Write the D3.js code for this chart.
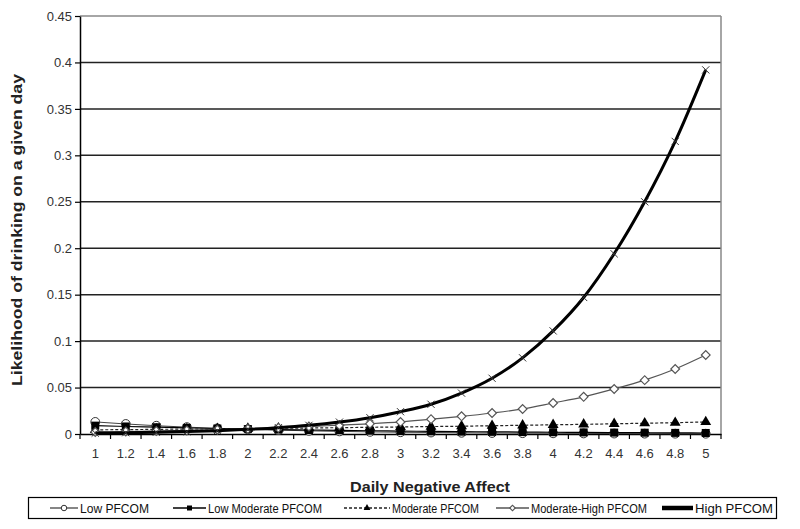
<!DOCTYPE html>
<html>
<head>
<meta charset="utf-8">
<script src="https://cdn.jsdelivr.net/npm/d3@7"></script>
<style>
  body { margin: 0; background: #fff; }
  svg { display: block; }
</style>
</head>
<body>
<svg id="chart" width="800" height="529"></svg>
<script>
// categories (daily negative affect)
const categories = ['1', '1.2', '1.4', '1.6', '1.8', '2', '2.2', '2.4', '2.6', '2.8', '3',
  '3.2', '3.4', '3.6', '3.8', '4', '4.2', '4.4', '4.6', '4.8', '5'];

// series values
const lowPfcom = [0.013, 0.0108, 0.0089, 0.0074, 0.0061, 0.0050, 0.0042, 0.0034, 0.0028, 0.0023,
  0.0019, 0.0016, 0.0013, 0.0011, 0.0009, 0.00075, 0.0006, 0.0005, 0.0004, 0.00035, 0.0003];
const lowModPfcom = [0.009, 0.0081, 0.0073, 0.0066, 0.0059, 0.0053, 0.0048, 0.0043, 0.0039, 0.0035,
  0.0031, 0.0028, 0.0025, 0.0023, 0.0021, 0.0019, 0.0017, 0.0015, 0.0014, 0.0012, 0.0011];
const modPfcom = [0.0045, 0.0047, 0.005, 0.0053, 0.0055, 0.0058, 0.0061, 0.0065, 0.0068, 0.0072,
  0.0076, 0.008, 0.0084, 0.0089, 0.0094, 0.0099, 0.0104, 0.011, 0.0116, 0.0122, 0.013];
const modHighPfcom = [0.0022, 0.0027, 0.0032, 0.0038, 0.0046, 0.0055, 0.0066, 0.008, 0.0095, 0.011,
  0.013, 0.016, 0.019, 0.0226, 0.027, 0.0334, 0.040, 0.0485, 0.058, 0.070, 0.085];
const highPfcom = [0.001, 0.0014, 0.0019, 0.0026, 0.0036, 0.005, 0.0068, 0.0093, 0.0128, 0.0175,
  0.024, 0.032, 0.044, 0.060, 0.082, 0.111, 0.147, 0.194, 0.25, 0.315, 0.392];

const yTicks = [0, 0.05, 0.1, 0.15, 0.2, 0.25, 0.3, 0.35, 0.4, 0.45];

const series = [
  { name: 'Low PFCOM', values: lowPfcom, stroke: '#444', width: 1, dash: null, marker: 'circle' },
  { name: 'Low Moderate PFCOM', values: lowModPfcom, stroke: '#000', width: 1.2, dash: null, marker: 'square' },
  { name: 'Moderate PFCOM', values: modPfcom, stroke: '#222', width: 1.2, dash: '3,2', marker: 'triangle' },
  { name: 'Moderate-High PFCOM', values: modHighPfcom, stroke: '#555', width: 1.2, dash: null, marker: 'diamond' },
  { name: 'High PFCOM', values: highPfcom, stroke: '#000', width: 3, dash: null, marker: 'x' }
];

const margin = { top: 16, right: 79, bottom: 95, left: 80 };
const width = 800, height = 529;
const svg = d3.select('#chart');

const x = d3.scaleBand()
  .domain(categories)
  .range([margin.left, width - margin.right]);

const y = d3.scaleLinear()
  .domain([0, 0.45])
  .range([height - margin.bottom, margin.top]);

const xc = d => x(d) + x.bandwidth() / 2;

// gridlines
svg.append('g')
  .selectAll('line')
  .data(yTicks.filter(t => t > 0))
  .join('line')
  .attr('x1', margin.left)
  .attr('x2', width - margin.right)
  .attr('y1', d => y(d))
  .attr('y2', d => y(d))
  .attr('stroke', d => d === 0.45 ? '#888' : '#222')
  .attr('stroke-width', 1.5);

// right border
svg.append('line')
  .attr('x1', width - margin.right).attr('x2', width - margin.right)
  .attr('y1', y(0.45)).attr('y2', y(0))
  .attr('stroke', '#888').attr('stroke-width', 1.5);

// y axis
const yAxis = svg.append('g')
  .attr('transform', `translate(${margin.left},0)`)
  .call(d3.axisLeft(y).tickValues(yTicks).tickFormat(d => d3.format('')(+d.toFixed(2))).tickSize(5).tickSizeOuter(0));
yAxis.select('.domain').attr('stroke', '#000').attr('stroke-width', 1.5);
yAxis.selectAll('.tick line').attr('stroke', '#000').attr('stroke-width', 1.2);
yAxis.selectAll('text')
  .attr('font-family', 'Arial, "Liberation Sans", sans-serif')
  .attr('font-size', 13).attr('fill', '#333').attr('x', -8);

// x axis
const xAxis = svg.append('g')
  .attr('transform', `translate(0,${y(0)})`)
  .call(d3.axisBottom(x).tickSize(0).tickSizeOuter(0));
xAxis.select('.domain').attr('stroke', '#000').attr('stroke-width', 1.5);
xAxis.selectAll('text')
  .attr('font-family', 'Arial, "Liberation Sans", sans-serif')
  .attr('font-size', 13).attr('fill', '#333').attr('dy', '1.2em').attr('y', 8);
// tick marks between categories
xAxis.selectAll('.sep')
  .data(categories.concat(['end']))
  .join('line')
  .attr('class', 'sep')
  .attr('x1', (d, i) => margin.left + i * x.step())
  .attr('x2', (d, i) => margin.left + i * x.step())
  .attr('y1', 0).attr('y2', 5)
  .attr('stroke', '#000').attr('stroke-width', 1.2);

// axis titles
svg.append('text')
  .attr('x', 430)
  .attr('y', 492)
  .attr('text-anchor', 'middle')
  .attr('font-family', 'Arial, "Liberation Sans", sans-serif')
  .attr('font-weight', 'bold').attr('font-size', 15).attr('fill', '#222')
  .attr('textLength', 160).attr('lengthAdjust', 'spacingAndGlyphs')
  .text('Daily Negative Affect');

svg.append('text')
  .attr('transform', 'translate(22,230) rotate(-90)')
  .attr('text-anchor', 'middle')
  .attr('font-family', 'Arial, "Liberation Sans", sans-serif')
  .attr('font-weight', 'bold').attr('font-size', 14.5).attr('fill', '#222')
  .attr('textLength', 312).attr('lengthAdjust', 'spacingAndGlyphs')
  .text('Likelihood of drinking on a given day');

// marker drawing
function drawMarker(g, type, size) {
  if (type === 'circle') {
    g.append('circle').attr('r', size * 0.55).attr('fill', '#fff').attr('stroke', '#333').attr('stroke-width', 1);
  } else if (type === 'square') {
    g.append('rect').attr('x', -size / 2).attr('y', -size / 2).attr('width', size).attr('height', size).attr('fill', '#000');
  } else if (type === 'triangle') {
    g.append('path').attr('d', d3.symbol(d3.symbolTriangle, size * size * 0.8)()).attr('fill', '#000');
  } else if (type === 'diamond') {
    g.append('path').attr('d', d3.symbol(d3.symbolSquare, size * size * 0.6)()).attr('transform', 'rotate(45)')
      .attr('fill', '#fff').attr('stroke', '#555').attr('stroke-width', 1.2);
  } else if (type === 'x') {
    const s = size * 0.45;
    g.append('path').attr('d', `M${-s},${-s}L${s},${s}M${-s},${s}L${s},${-s}`)
      .attr('stroke', '#333').attr('stroke-width', 1);
  }
}

const line = d3.line().x((d, i) => xc(categories[i])).y(d => y(d)).curve(d3.curveMonotoneX);

const plot = svg.append('g');
series.forEach(s => {
  const g = plot.append('g');
  g.append('path')
    .datum(s.values)
    .attr('d', line)
    .attr('fill', 'none')
    .attr('stroke', s.stroke)
    .attr('stroke-width', s.width)
    .attr('stroke-dasharray', s.dash);
  g.selectAll('g.m')
    .data(s.values)
    .join('g')
    .attr('class', 'm')
    .attr('transform', (d, i) => `translate(${xc(categories[i])},${y(d)})`)
    .each(function () { drawMarker(d3.select(this), s.marker, 8); });
});

// legend
const legend = svg.append('g');
legend.append('rect')
  .attr('x', 28.5).attr('y', 497.5).attr('width', 748).attr('height', 21)
  .attr('fill', '#fff').attr('stroke', '#000').attr('stroke-width', 1.2);
const legendX = [50, 173, 344, 496, 662];
const legendSample = [28, 33, 46, 33, 31];
const legendTextW = [69, 114, 87, 116, 78];
series.forEach((s, i) => {
  const lg = legend.append('g').attr('transform', `translate(${legendX[i]},508)`);
  lg.append('line').attr('x1', 0).attr('x2', legendSample[i]).attr('y1', 0).attr('y2', 0)
    .attr('stroke', s.stroke).attr('stroke-width', i === 4 ? 4.5 : s.width + 0.3)
    .attr('stroke-dasharray', s.dash);
  if (i < 4) {
    const mg = lg.append('g').attr('transform', `translate(${legendSample[i] / 2},0)`);
    drawMarker(mg, s.marker, 5);
  }
  lg.append('text')
    .attr('x', legendSample[i] + 2).attr('y', 4.5)
    .attr('font-family', 'Arial, "Liberation Sans", sans-serif')
    .attr('font-size', 12.5).attr('fill', '#111')
    .attr('textLength', legendTextW[i]).attr('lengthAdjust', 'spacingAndGlyphs')
    .text(s.name);
});
</script>
</body>
</html>
